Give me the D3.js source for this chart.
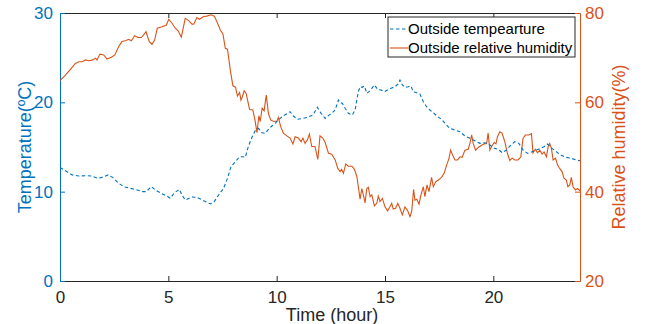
<!DOCTYPE html>
<html>
<head>
<meta charset="utf-8">
<script src="https://cdn.jsdelivr.net/npm/d3@7"></script>
<style>
  body { margin: 0; background: #fff; }
  svg { display: block; font-family: "Liberation Sans", Arial, sans-serif; }
</style>
</head>
<body>
<svg id="chart" width="655" height="324"></svg>
<script>
// hours, temperature (degC), relative humidity (%)
const tempHours = [0, 0.25, 0.56, 0.87, 1.18, 1.48, 1.76, 1.94, 2.22, 2.43, 2.68, 2.94, 3.25, 3.56, 3.82, 3.97,
  4.22, 4.4, 4.68, 4.94, 5.09, 5.29, 5.51, 5.63, 5.78, 6.09, 6.32, 6.63, 6.94, 7.12, 7.32, 7.55, 7.73, 7.89,
  8.09, 8.29, 8.44, 8.55, 8.7, 8.86, 9.01, 9.16, 9.32, 9.47, 9.62, 9.78, 9.93, 10.08, 10.29, 10.5, 10.62,
  10.77, 10.96, 11.21, 11.42, 11.67, 11.88, 12.05, 12.24, 12.43, 12.54, 12.7, 12.85, 12.93, 13.03, 13.16,
  13.31, 13.49, 13.62, 13.7, 13.77, 13.85, 13.95, 14.05, 14.16, 14.26, 14.39, 14.51, 14.66, 14.82, 14.97,
  15.12, 15.28, 15.46, 15.61, 15.69, 15.8, 15.92, 16.07, 16.2, 16.3, 16.46, 16.61, 16.77, 16.92, 17.07,
  17.23, 17.43, 17.61, 17.8, 17.99, 18.23, 18.46, 18.69, 18.92, 19.15, 19.38, 19.61, 19.84, 20.04, 20.22,
  20.41, 20.61, 20.81, 20.99, 21.18, 21.37, 21.58, 21.79, 21.99, 22.19, 22.34, 22.5, 22.71, 22.91, 23.11,
  23.37, 23.6, 23.83, 24];
const temperature = [12.7, 12.35, 11.87, 11.75, 11.79, 11.75, 11.49, 11.6, 11.87, 11.6, 11.0, 10.56, 10.37,
  10.19, 10.0, 10.0, 10.56, 10.19, 9.8, 9.51, 9.26, 9.9, 10.26, 9.63, 9.07, 9.4, 9.37, 8.99, 8.62, 8.88,
  9.63, 10.37, 11.49, 12.79, 13.35, 13.91, 13.91, 13.84, 15.11, 16.09, 16.83, 17.09, 16.6, 16.53, 16.98,
  17.35, 17.65, 18.02, 18.47, 18.77, 18.95, 18.47, 18.1, 18.21, 18.32, 18.58, 19.44, 18.77, 18.2, 18.6,
  18.77, 19.14, 20.26, 19.96, 19.89, 19.33, 18.77, 18.58, 19.14, 20.26, 21.19, 21.75, 21.68, 21.83, 21.01,
  21.19, 21.57, 21.94, 21.46, 21.38, 21.19, 21.38, 21.57, 21.75, 22.05, 22.5, 21.94, 21.68, 21.75, 21.83,
  21.19, 21.08, 20.93, 20.07, 19.51, 19.14, 18.84, 18.39, 18.1, 17.57, 17.09, 16.9, 16.71, 16.23, 15.97,
  15.7, 15.41, 15.48, 15.22, 14.85, 14.74, 14.36, 14.66, 15.22, 15.59, 15.41, 14.66, 14.29, 14.47, 14.66,
  14.85, 15.03, 15.33, 14.85, 14.47, 14.1, 13.84, 13.73, 13.54, 13.46];

const humHours = [0, 0.25, 0.48, 0.71, 0.87, 1.02, 1.18, 1.33, 1.51, 1.64, 1.71, 1.84, 2.02, 2.17, 2.37, 2.53,
  2.71, 2.86, 3.02, 3.17, 3.29, 3.45, 3.6, 3.76, 3.97, 4.12, 4.25, 4.37, 4.49, 4.71, 4.91, 5.02, 5.17, 5.32,
  5.45, 5.6, 5.78, 5.94, 6.09, 6.17, 6.32, 6.44, 6.63, 6.78, 6.97, 7.12, 7.24, 7.4, 7.52, 7.63, 7.73, 7.86,
  7.98, 8.1, 8.19, 8.29, 8.35, 8.42, 8.5, 8.59, 8.75, 8.9, 9.0, 9.09, 9.18, 9.24, 9.33, 9.42, 9.52, 9.62,
  9.73, 9.88, 10.01, 10.08, 10.19, 10.31, 10.47, 10.62, 10.75, 10.85, 11.0, 11.13, 11.21, 11.31, 11.42,
  11.51, 11.62, 11.77, 11.9, 12.0, 12.13, 12.24, 12.39, 12.54, 12.7, 12.82, 12.93, 13.0, 13.08, 13.19,
  13.31, 13.47, 13.59, 13.7, 13.77, 13.85, 13.93, 14.0, 14.08, 14.16, 14.23, 14.31, 14.39, 14.51, 14.62,
  14.69, 14.77, 14.88, 15.0, 15.12, 15.23, 15.31, 15.38, 15.49, 15.59, 15.69, 15.8, 15.92, 16.05, 16.15,
  16.23, 16.32, 16.38, 16.47, 16.57, 16.66, 16.77, 16.84, 16.94, 17.03, 17.15, 17.23, 17.34, 17.46, 17.61,
  17.73, 17.84, 17.95, 18.03, 18.12, 18.23, 18.35, 18.46, 18.56, 18.69, 18.84, 18.92, 19.0, 19.07, 19.18,
  19.3, 19.46, 19.58, 19.69, 19.76, 19.84, 19.92, 20.04, 20.12, 20.19, 20.3, 20.4, 20.53, 20.65, 20.76,
  20.87, 20.99, 21.14, 21.27, 21.37, 21.48, 21.63, 21.76, 21.83, 21.94, 22.04, 22.14, 22.25, 22.34, 22.45,
  22.53, 22.6, 22.68, 22.76, 22.87, 22.96, 23.06, 23.17, 23.26, 23.37, 23.44, 23.53, 23.6, 23.68, 23.79,
  23.88, 24];
const humidity = [64.85, 66.1, 67.4, 68.7, 69.1, 69.1, 69.5, 69.3, 69.5, 69.9, 69.5, 70.8, 70.6, 69.7, 70.1,
  70.6, 72.5, 73.6, 73.8, 74.1, 73.8, 74.9, 74.5, 74.5, 75.8, 73.6, 73.0, 74.0, 76.6, 76.9, 77.3, 78.6,
  77.7, 76.6, 76.0, 74.6, 78.8, 78.3, 77.5, 77.5, 79.0, 78.6, 79.2, 79.3, 79.6, 79.3, 78.1, 76.2, 75.3,
  72.1, 71.9, 67.2, 63.7, 63.4, 61.4, 62.2, 60.5, 61.3, 62.6, 62.0, 58.4, 58.3, 56.0, 53.2, 57.0, 55.7,
  58.7, 58.1, 61.6, 57.5, 56.0, 55.7, 55.8, 56.6, 54.5, 53.1, 52.5, 52.0, 50.7, 52.3, 52.0, 51.2, 52.0,
  50.8, 51.6, 52.9, 50.1, 50.1, 47.2, 52.5, 52.0, 51.0, 48.6, 48.4, 47.1, 45.2, 44.5, 45.0, 44.1, 46.2,
  45.7, 45.7, 45.0, 43.4, 41.1, 38.3, 40.7, 39.3, 37.5, 40.7, 41.0, 38.9, 39.3, 36.8, 37.4, 39.0, 37.8,
  38.5, 36.6, 35.7, 36.6, 37.4, 36.1, 36.3, 37.4, 36.3, 34.8, 36.6, 35.7, 34.4, 35.5, 40.5, 38.1, 38.3,
  37.2, 39.3, 41.1, 38.9, 41.5, 40.0, 43.2, 41.1, 42.2, 42.6, 43.2, 44.1, 45.9, 47.4, 49.3, 48.2, 47.1,
  47.1, 47.8, 47.7, 49.3, 49.5, 50.8, 52.7, 50.8, 49.3, 49.9, 50.4, 50.7, 50.8, 53.1, 49.3, 50.1, 51.0,
  50.7, 52.3, 53.4, 53.1, 51.2, 48.6, 47.0, 47.5, 47.1, 47.1, 47.8, 51.9, 52.7, 52.7, 53.0, 48.7, 49.5,
  48.7, 49.3, 48.4, 48.9, 47.8, 50.1, 50.8, 49.7, 47.1, 47.5, 46.0, 45.2, 44.5, 43.0, 42.6, 41.1, 41.5,
  43.2, 41.1, 40.4, 40.7, 40.2];

const xTicks = [0, 5, 10, 15, 20];
const tempTicks = [0, 10, 20, 30];
const humTicks = [20, 40, 60, 80];

const blue = "#0072BD", orange = "#D95319", dark = "#262626";
const svg = d3.select("#chart");
const plotLeft = 60, plotRight = 580, plotTop = 13, plotBottom = 281;

const x = d3.scaleLinear().domain([0, 24]).range([plotLeft, plotRight]);
const yT = d3.scaleLinear().domain([0, 30]).range([plotBottom, plotTop]);
const yH = d3.scaleLinear().domain([20, 80]).range([plotBottom, plotTop]);

// top frame with inward ticks
svg.append("g")
  .attr("transform", `translate(0,${plotTop})`)
  .call(d3.axisTop(x).tickValues(xTicks).tickSize(-5).tickSizeOuter(0).tickFormat(""))
  .call(g => g.selectAll("path,line").attr("stroke", dark));

// bottom axis
svg.append("g")
  .attr("transform", `translate(0,${plotBottom})`)
  .call(d3.axisBottom(x).tickValues(xTicks).tickSize(-5).tickSizeOuter(0).tickPadding(10))
  .call(g => g.selectAll("path,line").attr("stroke", dark))
  .call(g => g.selectAll("text").attr("fill", dark).style("font-size", "17px"));

// left axis (temperature)
svg.append("g")
  .attr("transform", `translate(${plotLeft},0)`)
  .call(d3.axisLeft(yT).tickValues(tempTicks).tickSize(-5).tickSizeOuter(0).tickPadding(7))
  .call(g => g.selectAll("path,line").attr("stroke", blue))
  .call(g => g.selectAll("text").attr("fill", blue).style("font-size", "17px"));

// right axis (humidity)
svg.append("g")
  .attr("transform", `translate(${plotRight},0)`)
  .call(d3.axisRight(yH).tickValues(humTicks).tickSize(-5).tickSizeOuter(0).tickPadding(5))
  .call(g => g.selectAll("path,line").attr("stroke", orange))
  .call(g => g.selectAll("text").attr("fill", orange).style("font-size", "17px"));

// series
const tempLine = d3.line().x((d, i) => x(tempHours[i])).y(d => yT(d));
const humLine = d3.line().x((d, i) => x(humHours[i])).y(d => yH(d));

svg.append("path").datum(humidity)
  .attr("d", humLine).attr("fill", "none")
  .attr("stroke", orange).attr("stroke-width", 1.1);

svg.append("path").datum(temperature)
  .attr("d", tempLine).attr("fill", "none")
  .attr("stroke", blue).attr("stroke-width", 1.1)
  .attr("stroke-dasharray", "3.5,2.5");

// axis titles
svg.append("text")
  .attr("transform", `translate(31,${(plotTop + plotBottom) / 2}) rotate(-90)`)
  .attr("text-anchor", "middle").attr("fill", blue)
  .style("font-size", "18px").text("Temperature(ºC)");

svg.append("text")
  .attr("transform", `translate(625,${(plotTop + plotBottom) / 2}) rotate(-90)`)
  .attr("text-anchor", "middle").attr("fill", orange)
  .style("font-size", "18px").text("Relative humidity(%)");

svg.append("text")
  .attr("x", 332).attr("y", 321)
  .attr("text-anchor", "middle").attr("fill", dark)
  .style("font-size", "18px").text("Time (hour)");

// legend
const legend = svg.append("g").attr("transform", "translate(388,17)");
legend.append("rect")
  .attr("width", 187).attr("height", 40)
  .attr("fill", "#fff").attr("stroke", dark).attr("stroke-width", 1);

const items = [
  { label: "Outside tempearture", color: blue, dash: "3.5,2.5" },
  { label: "Outside relative humidity", color: orange, dash: null }
];
items.forEach((d, i) => {
  const yy = 12 + i * 19;
  legend.append("line")
    .attr("x1", 2).attr("x2", 20).attr("y1", yy).attr("y2", yy)
    .attr("stroke", d.color).attr("stroke-width", 1.1)
    .attr("stroke-dasharray", d.dash);
  legend.append("text")
    .attr("x", 20).attr("y", yy + 5)
    .attr("fill", "#000").style("font-size", "15px")
    .text(d.label);
});
</script>
</body>
</html>
